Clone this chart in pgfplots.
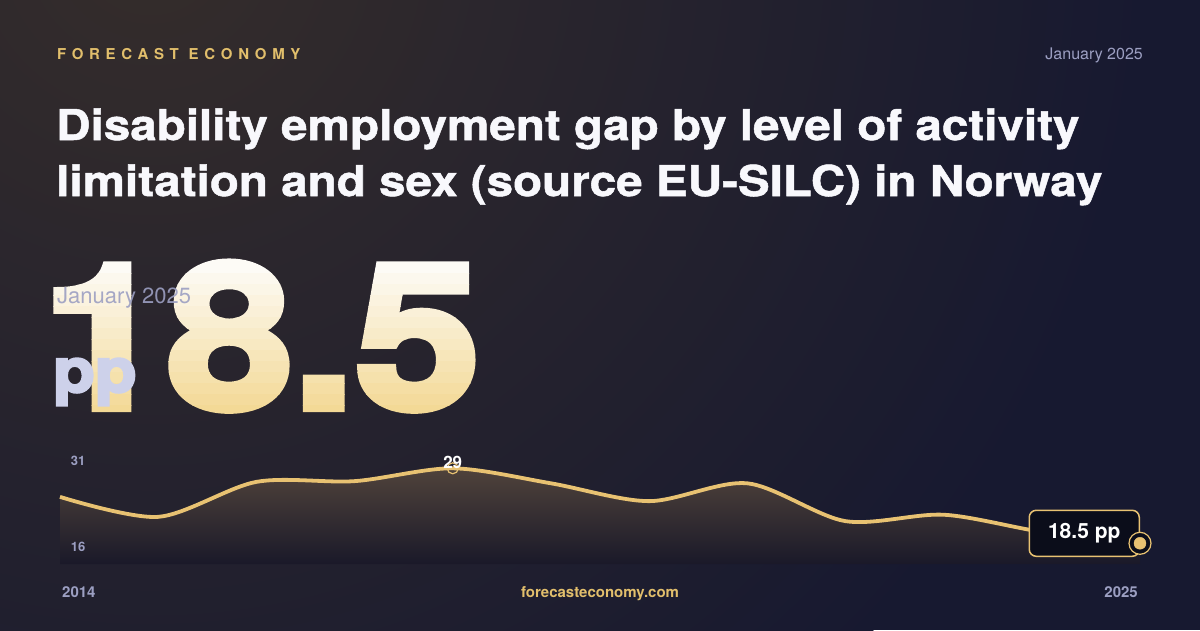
\documentclass[border=0pt]{standalone}
\usepackage{fontspec}
\setmainfont{TeX Gyre Heros}
\newfontfamily\heavy{TeX Gyre Heros}[FakeBold=4, FakeStretch=1.12]
\newfontfamily\titlefont{TeX Gyre Heros}[FakeBold=1.2, FakeStretch=1.12]
\usepackage{pgfplots}
\pgfplotsset{compat=1.18}

\definecolor{bg}{HTML}{171930}
\definecolor{glow}{HTML}{352D2B}
\definecolor{gold}{HTML}{E8C272}
\definecolor{goldtxt}{HTML}{E2BF6C}
\definecolor{muted}{HTML}{9C9FC2}
\definecolor{titlecol}{HTML}{F8F8FC}
\definecolor{numtop}{HTML}{FDFBF6}
\definecolor{numbot}{HTML}{F3D996}
\definecolor{ppcol}{HTML}{CDD1EA}
\definecolor{boxbg}{HTML}{0B0D1A}
\definecolor{areatop}{HTML}{50433B}
\definecolor{areabot}{HTML}{1A1929}

\newcommand\fs[1]{\fontsize{#1}{#1}\selectfont}

% gap in percentage points, 2014-2025
\pgfplotstableread{
year gap
2014 25.0
2015 22.2
2016 27.1
2017 27.2
2018 29.0
2019 26.9
2020 24.4
2021 26.9
2022 21.6
2023 22.5
2024 20.1
2025 18.5
}\gapdata

\begin{document}
\begin{tikzpicture}
\begin{scope}[x=1pt,y=-1pt]
  % background
  \fill[bg] (0,0) rectangle (1200,630);
  \begin{scope}
    \clip (0,0) rectangle (1200,630);
    \shade[inner color=glow, outer color=bg] (150,-60) circle (1000);
  \end{scope}

  % header
  \node[anchor=base west, inner sep=0pt, text=goldtxt, font=\fs{15}\bfseries\addfontfeature{LetterSpace=38}] at (57,59) {FORECAST ECONOMY};
  \node[anchor=base east, inner sep=0pt, text=muted, font=\fs{16}] at (1143,59) {January 2025};

  % title
  \node[anchor=base west, inner sep=0pt, text=titlecol, font=\fs{42.5}\titlefont\bfseries] at (56,140) {Disability employment gap by level of activity};
  \node[anchor=base west, inner sep=0pt, text=titlecol, font=\fs{42.5}\titlefont\bfseries] at (56,196) {limitation and sex (source EU-SILC) in Norway};

  % big number, vertical gradient built from bands
  \foreach \i in {0,...,13} {
    \pgfmathtruncatemacro\pct{100-\i*100/13}
    \pgfmathsetmacro\ytop{\i==0 ? 200 : 262+\i*11}
    \pgfmathsetmacro\ybot{\i==13 ? 440 : 262+\i*11+11.6}
    \begin{scope}
      \clip (0,\ytop) rectangle (700,\ybot);
      \node[anchor=base west, inner sep=0pt, text=numtop!\pct!numbot, font=\fs{201}\heavy\bfseries] at (42,408) {18.5};
    \end{scope}
  }
  \node[anchor=base west, inner sep=0pt, text=muted, opacity=0.9, font=\fs{22}] at (57,303) {January 2025};
  \node[anchor=base west, inner sep=0pt, text=ppcol, font=\fs{61}\heavy\bfseries] at (53,392) {pp};

  % footer
  \node[anchor=base west, inner sep=0pt, text=muted, font=\fs{15}\bfseries] at (62,597) {2014};
  \node[anchor=base east, inner sep=0pt, text=muted, font=\fs{15}\bfseries] at (1138,597) {2025};
  \node[anchor=base, inner sep=0pt, text=goldtxt, font=\fs{15}\bfseries] at (600,597) {forecasteconomy.com};
\end{scope}

\begin{axis}[
  at={(60pt,-564pt)}, anchor=south west,
  width=1080pt, height=110pt, scale only axis,
  xmin=2014, xmax=2025, ymin=15.6, ymax=31,
  axis lines=none, clip=false,
]
\addplot[draw=none, top color=areatop, bottom color=areabot, smooth]
  table[x=year, y=gap] {\gapdata} \closedcycle;
\addplot[gold, line width=3.8pt, smooth] table[x=year, y=gap] {\gapdata};

\node[text=muted, font=\fs{13}\bfseries] at (axis description cs:0.0167,0.936) {31};
\node[text=muted, font=\fs{13}\bfseries] at (axis description cs:0.0167,0.155) {16};

% peak
\addplot[only marks, mark=o, mark size=5.5pt, gold, line width=1.2pt,
  point meta=explicit symbolic, nodes near coords,
  nodes near coords style={anchor=center, yshift=6pt, text=white, font=\fs{17}\bfseries}]
  coordinates {(2018,29) [29]};

% latest value
\node[draw=gold, fill=boxbg, rounded corners=7pt, line width=1.5pt, anchor=east,
  minimum height=46pt, minimum width=110pt, text=white, font=\fs{21}\bfseries,
  yshift=10pt] at (axis cs:2025,18.5) {18.5 pp};
\addplot[only marks, mark=*, mark size=11pt, draw=gold, fill=boxbg, line width=1.2pt]
  coordinates {(2025,18.5)};
\addplot[only marks, mark=*, mark size=6pt, gold]
  coordinates {(2025,18.5)};
\end{axis}

\pgfresetboundingbox
\path[use as bounding box] (0,0) rectangle (1200pt,-630pt);
\end{tikzpicture}
\end{document}
